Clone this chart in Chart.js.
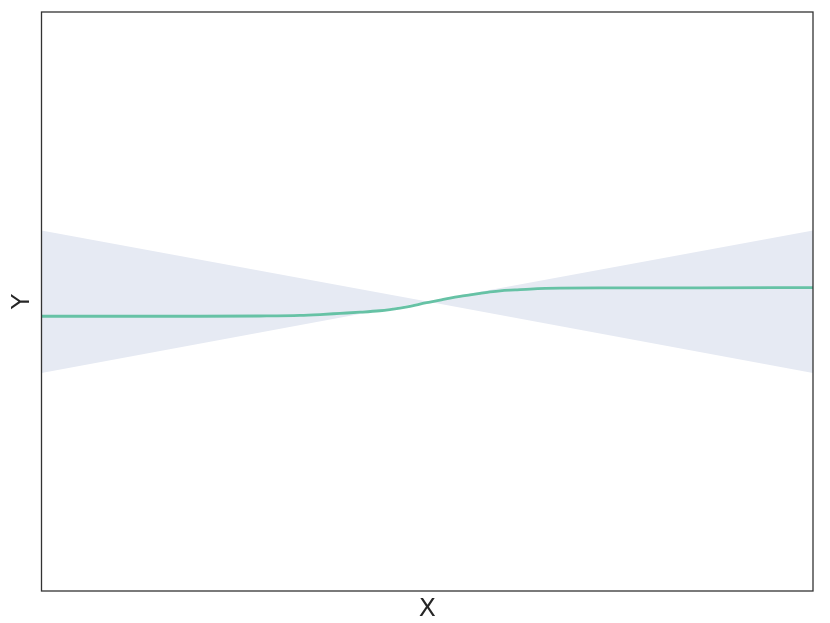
<!DOCTYPE html>
<html>
<head>
<meta charset="utf-8">
<script src="https://cdn.jsdelivr.net/npm/chart.js@4/dist/chart.umd.min.js"></script>
<style>
html,body{margin:0;padding:0;background:#fff;}
#wrap{width:830px;height:623px;}
</style>
</head>
<body>
<div id="wrap"><canvas id="c" width="830" height="623"></canvas></div>
<script>
// Fitted curve (x, y)
const curveX = [-1, -0.589, -0.434, -0.330, -0.278, -0.226, -0.174, -0.123, -0.097, -0.071, -0.045, -0.019, 0.007, 0.033, 0.059, 0.085, 0.111, 0.137, 0.163, 0.189, 0.228, 0.267, 0.306, 0.344, 0.448, 0.707, 1];
const curveY = [-0.051, -0.051, -0.050, -0.048, -0.045, -0.041, -0.037, -0.032, -0.028, -0.023, -0.017, -0.009, -0.002, 0.005, 0.012, 0.018, 0.023, 0.028, 0.033, 0.037, 0.040, 0.043, 0.045, 0.046, 0.047, 0.047, 0.048];
// Confidence band edges
const bandX = [-1, 0, 1];
const bandUpper = [0.245, 0, 0.245];
const bandLower = [-0.247, 0, -0.247];
const xLabel = 'X';
const yLabel = 'Y';

const pts = (xs, ys) => xs.map((x, i) => ({x: x, y: ys[i]}));

const framePlugin = {
  id: 'frame',
  afterDraw(chart) {
    const {ctx, chartArea: a} = chart;
    ctx.save();
    ctx.strokeStyle = '#333333';
    ctx.lineWidth = 1.3;
    ctx.strokeRect(a.left, a.top, a.right - a.left, a.bottom - a.top);
    ctx.restore();
  }
};

new Chart(document.getElementById('c'), {
  type: 'line',
  data: {
    datasets: [
      {
        label: 'upper',
        data: pts(bandX, bandUpper),
        borderWidth: 0,
        pointRadius: 0,
        fill: false,
        backgroundColor: 'rgb(230,234,243)',
        tension: 0,
        order: 3
      },
      {
        label: 'lower',
        data: pts(bandX, bandLower),
        borderWidth: 0,
        pointRadius: 0,
        fill: '-1',
        backgroundColor: 'rgb(230,234,243)',
        tension: 0,
        order: 2
      },
      {
        label: 'fit',
        data: pts(curveX, curveY),
        borderColor: '#66c2a5',
        borderWidth: 2.8,
        pointRadius: 0,
        fill: false,
        cubicInterpolationMode: 'monotone',
        order: 1
      }
    ]
  },
  options: {
    responsive: false,
    animation: false,
    layout: {padding: {top: 12, right: 17, left: 0, bottom: 0}},
    plugins: {legend: {display: false}, tooltip: {enabled: false}},
    scales: {
      x: {
        type: 'linear', min: -1, max: 1,
        ticks: {display: false},
        grid: {display: false, drawTicks: false},
        border: {display: false},
        title: {display: true, text: xLabel, color: '#262626',
          font: {family: 'DejaVu Sans', size: 25, lineHeight: 1}, padding: {top: 5.5, bottom: 1.5}}
      },
      y: {
        type: 'linear', min: -1, max: 1,
        ticks: {display: false},
        grid: {display: false, drawTicks: false},
        border: {display: false},
        title: {display: true, text: yLabel, color: '#262626',
          font: {family: 'DejaVu Sans', size: 25, lineHeight: 1}, padding: {top: 10, bottom: 6.5}}
      }
    }
  },
  plugins: [framePlugin]
});
</script>
</body>
</html>
